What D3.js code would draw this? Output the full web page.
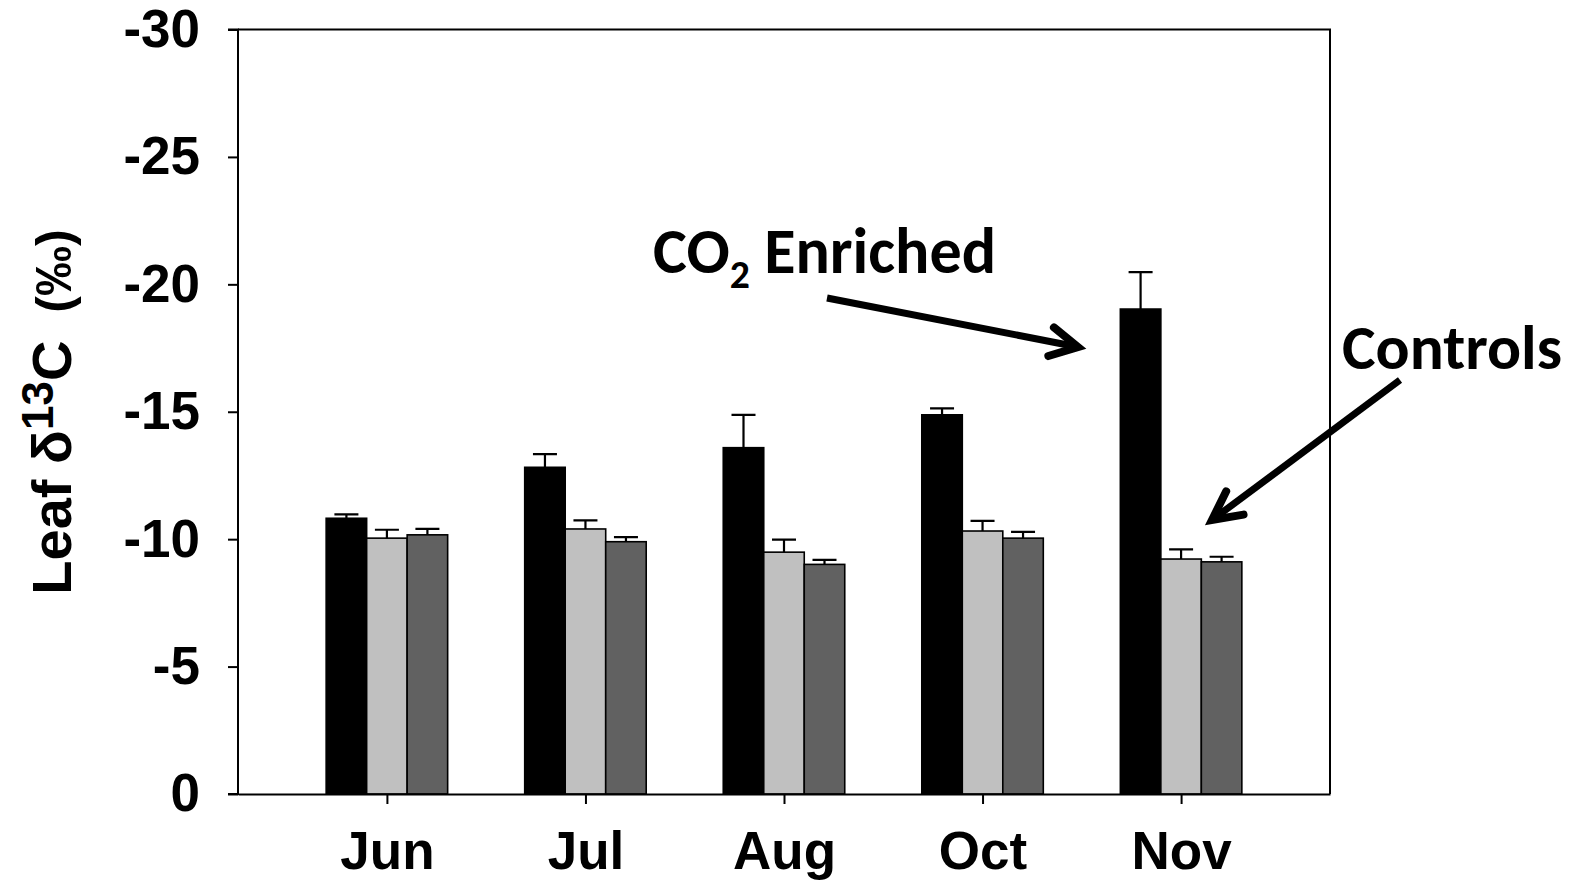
<!DOCTYPE html>
<html>
<head>
<meta charset="utf-8">
<script src="https://cdn.jsdelivr.net/npm/d3@7"></script>
<style>
  body { margin: 0; background: #fff; }
  svg { display: block; }
</style>
</head>
<body>
<div id="chart"></div>
<script>
// values (per mille, plotted with an inverted axis)
var months = ["Jun", "Jul", "Aug", "Oct", "Nov"];
var enriched = [-10.82, -12.82, -13.59, -14.88, -19.03];
var enrichedSE = [0.15, 0.52, 1.29, 0.25, 1.45];
var controlA = [-10.04, -10.40, -9.49, -10.32, -9.22];
var controlASE = [0.33, 0.34, 0.49, 0.40, 0.38];
var controlB = [-10.17, -9.90, -9.01, -10.04, -9.11];
var controlBSE = [0.23, 0.18, 0.18, 0.25, 0.20];
var yTicks = [0, -5, -10, -15, -20, -25, -30];

var seriesColours = ["#000000", "#c0c0c0", "#616161"];

var width = 1575, height = 883;
var margin = {top: 29.5, right: 245, bottom: 89, left: 238};
var plotW = width - margin.left - margin.right,
    plotH = height - margin.top - margin.bottom;

var svg = d3.select("#chart")
  .append("svg")
    .attr("width", width)
    .attr("height", height);

var g = svg.append("g")
    .attr("transform", "translate(" + margin.left + "," + margin.top + ")");

var x = d3.scalePoint()
  .domain(months)
  .range([0, plotW])
  .padding(0.75);

var y = d3.scaleLinear()
  .domain([0, -30])
  .range([plotH, 0]);

var barW = 40.5;

var series = [
  {values: enriched, se: enrichedSE},
  {values: controlA, se: controlASE},
  {values: controlB, se: controlBSE}
];

// bars
series.forEach(function(s, si) {
  var rows = months.map(function(m, i) { return {m: m, v: s.values[i], e: s.se[i]}; });
  var off = (si - 1.5) * barW;

  g.selectAll(".bar" + si)
    .data(rows).enter()
    .append("rect")
      .attr("x", d => x(d.m) + off)
      .attr("y", d => y(d.v))
      .attr("width", barW)
      .attr("height", d => y(0) - y(d.v))
      .attr("fill", seriesColours[si])
      .attr("stroke", "#000")
      .attr("stroke-width", 1.6);

  // error bars, drawn upward only
  g.selectAll(".err" + si)
    .data(rows).enter()
    .append("path")
      .attr("d", function(d) {
        var cx = x(d.m) + off + barW / 2;
        return "M" + cx + "," + y(d.v) + "V" + y(d.v - d.e) +
               "M" + (cx - 12) + "," + y(d.v - d.e) + "H" + (cx + 12);
      })
      .attr("fill", "none")
      .attr("stroke", "#000")
      .attr("stroke-width", 2.2);
});

// frame
g.append("path")
  .attr("d", "M0,0H" + plotW + "V" + plotH)
  .attr("fill", "none")
  .attr("stroke", "#000")
  .attr("stroke-width", 2);

var yAxis = g.append("g")
  .call(d3.axisLeft(y).tickValues(yTicks).tickSize(10).tickPadding(28)
        .tickFormat(d => String(d)));

var xAxis = g.append("g")
  .attr("transform", "translate(0," + plotH + ")")
  .call(d3.axisBottom(x).tickSize(10).tickPadding(27).tickSizeOuter(0));

[yAxis, xAxis].forEach(function(ax) {
  ax.select(".domain").attr("stroke-width", 2);
  ax.selectAll(".tick line").attr("stroke-width", 2);
  ax.selectAll("text")
    .style("font-family", "'Liberation Sans', Arial, sans-serif")
    .style("font-weight", "bold")
    .style("font-size", "53px")
    .attr("fill", "#000");
});
yAxis.select(".domain").attr("d", "M-10," + plotH + "H0V0H-10");

// y axis title
var yTitle = svg.append("text")
  .attr("transform", "translate(71," + 412 + ") rotate(-90)")
  .attr("text-anchor", "middle")
  .style("font-family", "'Liberation Sans', Arial, sans-serif")
  .style("font-weight", "bold")
  .style("font-size", "56px");
yTitle.append("tspan").text("Leaf \u03b4");
yTitle.append("tspan").attr("dy", -18).style("font-size", "44px").text("13");
yTitle.append("tspan").attr("dy", 18).text("C");
yTitle.append("tspan").attr("dx", 28).style("font-size", "50px").text("(\u2030)");

// annotations
var annoFont = "Carlito, Lato, 'Open Sans', sans-serif";

function fitText(sel, target) {
  var len = sel.node().getComputedTextLength();
  var fs = parseFloat(sel.style("font-size"));
  sel.style("font-size", (fs * target / len) + "px");
}

var co2 = svg.append("text")
  .attr("x", 653).attr("y", 273)
  .style("font-family", annoFont)
  .style("font-weight", "bold")
  .style("font-size", "58px");
co2.append("tspan").text("CO");
co2.append("tspan").attr("dy", 15).style("font-size", "0.62em").text("2");
co2.append("tspan").attr("dy", -15).text(" Enriched");
fitText(co2, 343);

var ctrl = svg.append("text")
  .attr("x", 1342).attr("y", 369)
  .style("font-family", annoFont)
  .style("font-weight", "bold")
  .style("font-size", "58px")
  .text("Controls");
fitText(ctrl, 220);

function arrow(x0, y0, x1, y1, len, spread) {
  var a = Math.atan2(y0 - y1, x0 - x1);
  var s = spread * Math.PI / 180;
  var b1 = [x1 + len * Math.cos(a - s), y1 + len * Math.sin(a - s)];
  var b2 = [x1 + len * Math.cos(a + s), y1 + len * Math.sin(a + s)];
  svg.append("path")
    .attr("d", "M" + x0 + "," + y0 + "L" + x1 + "," + y1)
    .attr("stroke", "#000").attr("stroke-width", 7).attr("fill", "none");
  svg.append("path")
    .attr("d", "M" + b1 + "L" + x1 + "," + y1 + "L" + b2)
    .attr("stroke", "#000").attr("stroke-width", 8).attr("fill", "none")
    .attr("stroke-linecap", "round").attr("stroke-linejoin", "miter");
}

arrow(827, 298, 1078, 347, 31, 28);
arrow(1400, 380, 1212, 520, 32, 27);
</script>
</body>
</html>
